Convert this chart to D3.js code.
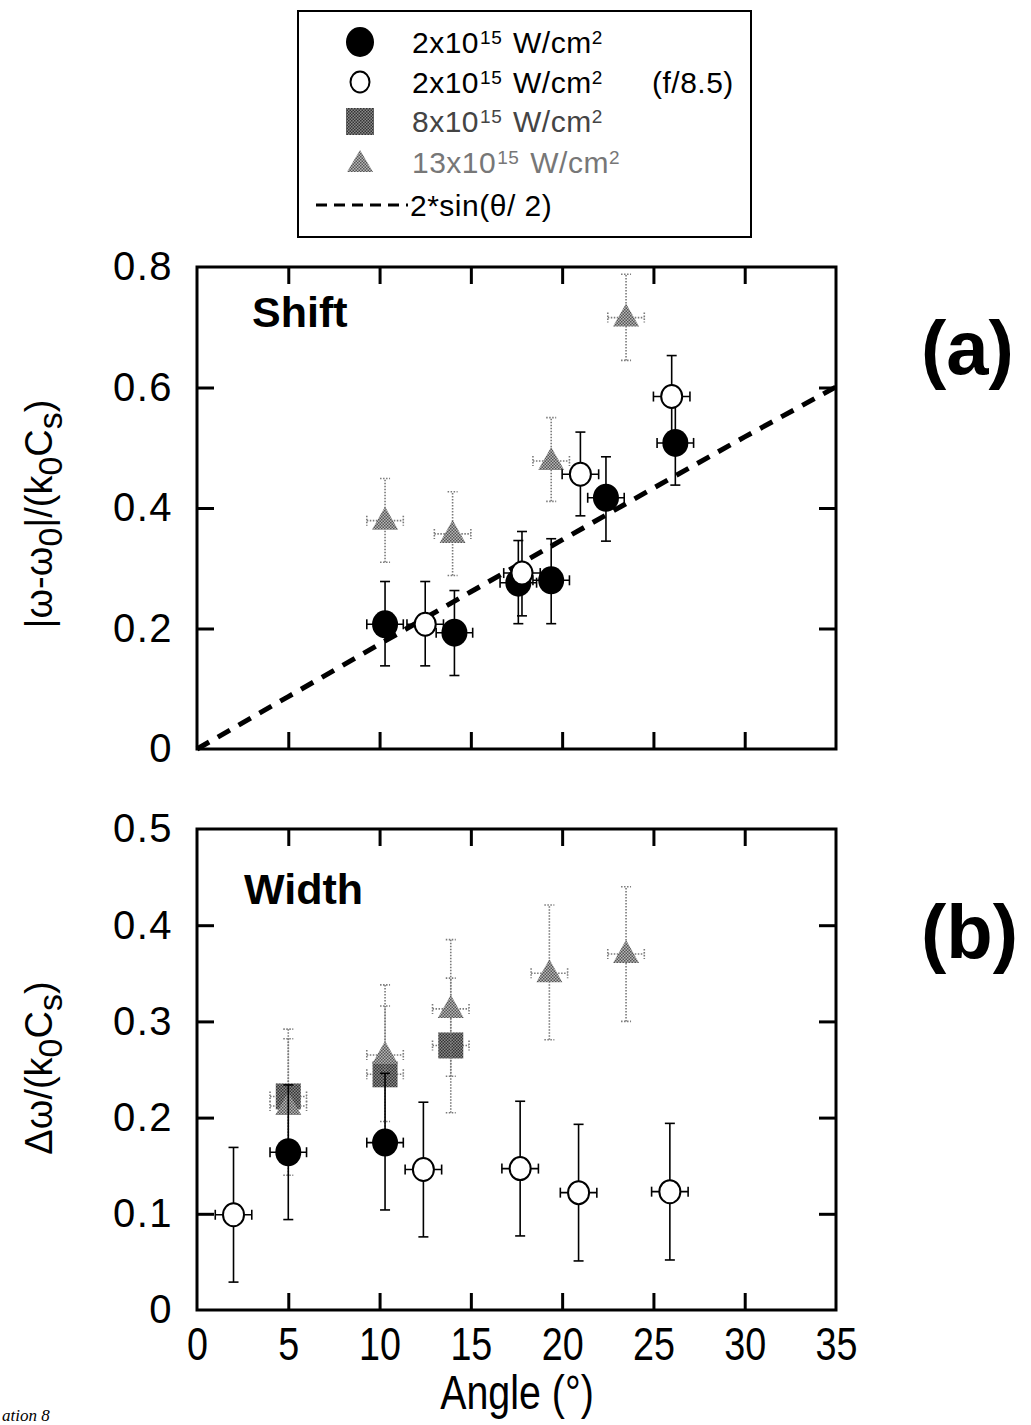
<!DOCTYPE html>
<meta charset="utf-8">
<head>
    <style>
        body { margin: 0; background: #fff; }
        .frame { fill: none; stroke: #000; stroke-width: 3; }
        .ticks .tick line { stroke: #000; stroke-width: 3; }
        .ticks .domain { display: none; }
        .ylab text { font-family: "Liberation Sans", Arial, sans-serif; font-size: 40px; letter-spacing: 1.5px; fill: #000; }
        .xlab text { font-family: "Liberation Sans", Arial, sans-serif; font-size: 46px; fill: #000; }
        .legend text { font-family: "Liberation Sans", Arial, sans-serif; font-size: 30px; letter-spacing: 0.5px; }
    </style>
    <script src="https://d3js.org/d3.v7.min.js"></script>
</head>
<body>
<svg id="chart" width="1031" height="1425"></svg>

<script>
    // angle ticks, value ticks
    var angleTicks = [0, 5, 10, 15, 20, 25, 30, 35];
    var shiftTicks = [0, 0.2, 0.4, 0.6, 0.8];
    var widthTicks = [0, 0.1, 0.2, 0.3, 0.4, 0.5];
    var angleErr = 1.0;

    // rows: [angle, value, low, high]
    var shiftFilled = [
        [10.3, 0.207, 0.138, 0.278],
        [14.1, 0.193, 0.122, 0.263],
        [17.6, 0.276, 0.208, 0.346],
        [19.4, 0.280, 0.208, 0.349],
        [22.4, 0.417, 0.345, 0.485],
        [26.2, 0.508, 0.438, 0.578]
    ];
    var shiftOpen = [
        [12.5, 0.207, 0.138, 0.278],
        [17.8, 0.292, 0.221, 0.361],
        [21.0, 0.456, 0.387, 0.526],
        [26.0, 0.585, 0.515, 0.653]
    ];
    var shiftTri = [
        [10.3, 0.379, 0.310, 0.449],
        [14.0, 0.357, 0.288, 0.427],
        [19.4, 0.478, 0.411, 0.550],
        [23.5, 0.716, 0.645, 0.788]
    ];
    // 2*sin(theta/2)
    var theoryAngle = [0, 5, 10, 15, 20, 25, 30, 35];
    var theoryShift = [0, 0.087, 0.174, 0.261, 0.347, 0.433, 0.518, 0.601];

    var widthOpen = [
        [2.0, 0.099, 0.029, 0.169],
        [12.4, 0.146, 0.076, 0.216],
        [17.7, 0.147, 0.077, 0.217],
        [20.9, 0.122, 0.051, 0.193],
        [25.9, 0.123, 0.052, 0.194]
    ];
    var widthFilled = [
        [5.0, 0.164, 0.094, 0.234],
        [10.3, 0.174, 0.104, 0.246]
    ];
    var widthSquare = [
        [5.0, 0.222, 0.153, 0.292],
        [10.3, 0.245, 0.178, 0.316],
        [13.9, 0.275, 0.205, 0.345]
    ];
    var widthTri = [
        [5.0, 0.212, 0.140, 0.282],
        [10.3, 0.265, 0.196, 0.338],
        [13.9, 0.313, 0.243, 0.385],
        [19.3, 0.350, 0.281, 0.421],
        [23.5, 0.370, 0.300, 0.440]
    ];

    var legendLabels = ["2x10", "2x10", "8x10", "13x10"];

    var svg = d3.select("#chart");

    var x = d3.scaleLinear().domain([0, 35]).range([197, 836]);
    var yA = d3.scaleLinear().domain([0, 0.8]).range([749, 267]);
    var yB = d3.scaleLinear().domain([0, 0.5]).range([1310, 829]);

    var defs = svg.append("defs");
    // halftone-ish fills
    function halftone(id, base, dot) {
        var p = defs.append("pattern").attr("id", id).attr("width", 3).attr("height", 3)
            .attr("patternUnits", "userSpaceOnUse");
        p.append("rect").attr("width", 3).attr("height", 3).attr("fill", base);
        p.append("rect").attr("width", 1.5).attr("height", 1.5).attr("fill", dot);
        p.append("rect").attr("x", 1.5).attr("y", 1.5).attr("width", 1.5).attr("height", 1.5).attr("fill", dot);
    }
    halftone("triFill", "#b8b8b8", "#555");
    halftone("sqFill", "#8a8a8a", "#333");

    function drawFrame(y, ticks, showX) {
        var g = svg.append("g");
        var inner = ticks.slice(1, -1);
        var xin = angleTicks.slice(1, -1);

        g.append("g").attr("class", "ticks").attr("transform", "translate(0," + y.range()[1] + ")")
            .call(d3.axisTop(x).tickValues(xin).tickSize(-17).tickFormat(""));
        g.append("g").attr("class", "ticks").attr("transform", "translate(0," + y.range()[0] + ")")
            .call(d3.axisBottom(x).tickValues(xin).tickSize(-17).tickFormat(""));
        g.append("g").attr("class", "ticks").attr("transform", "translate(" + x.range()[1] + ",0)")
            .call(d3.axisRight(y).tickValues(inner).tickSize(-17).tickFormat(""));
        g.append("g").attr("class", "ticks ylab").attr("transform", "translate(" + x.range()[0] + ",0)")
            .call(d3.axisLeft(y).tickValues(ticks).tickSize(-17).tickPadding(24)
                .tickFormat(function(d){ return d === 0 ? "0" : d3.format(".1f")(d); }));
        g.selectAll(".ylab .tick line").filter(function(d){ return d === ticks[0] || d === ticks[ticks.length-1]; }).remove();

        if (showX) {
            var xa = g.append("g").attr("class", "ticks xlab").attr("transform", "translate(0," + y.range()[0] + ")")
                .call(d3.axisBottom(x).tickValues(angleTicks).tickSize(0).tickPadding(17).tickFormat(d3.format("d")));
            // condensed look
            xa.selectAll("text").attr("transform", "scale(0.82,1)");
        }

        g.append("rect").attr("class", "frame")
            .attr("x", x.range()[0]).attr("y", y.range()[1])
            .attr("width", x.range()[1] - x.range()[0])
            .attr("height", y.range()[0] - y.range()[1]);
    }

    function errorBars(g, data, y, gray) {
        var col = gray ? "#7a7a7a" : "#000";
        var dash = gray ? "1.5,1.5" : null;
        var eb = g.append("g").attr("stroke", col).attr("stroke-width", 1.6).attr("stroke-dasharray", dash);
        data.forEach(function(d){
            var cx = x(d[0]), cy = y(d[1]);
            eb.append("line").attr("x1", cx).attr("x2", cx).attr("y1", y(d[2])).attr("y2", y(d[3]));
            eb.append("line").attr("x1", cx - 5).attr("x2", cx + 5).attr("y1", y(d[2])).attr("y2", y(d[2]));
            eb.append("line").attr("x1", cx - 5).attr("x2", cx + 5).attr("y1", y(d[3])).attr("y2", y(d[3]));
            var xl = x(d[0] - angleErr), xr = x(d[0] + angleErr);
            eb.append("line").attr("x1", xl).attr("x2", xr).attr("y1", cy).attr("y2", cy);
            eb.append("line").attr("x1", xl).attr("x2", xl).attr("y1", cy - 5).attr("y2", cy + 5);
            eb.append("line").attr("x1", xr).attr("x2", xr).attr("y1", cy - 5).attr("y2", cy + 5);
        });
    }

    function filledCircles(g, data, y) {
        g.selectAll(null).data(data).enter().append("ellipse")
            .attr("cx", function(d){ return x(d[0]); }).attr("cy", function(d){ return y(d[1]); })
            .attr("rx", 13).attr("ry", 14).attr("fill", "#000");
    }
    function openCircles(g, data, y) {
        g.selectAll(null).data(data).enter().append("ellipse")
            .attr("cx", function(d){ return x(d[0]); }).attr("cy", function(d){ return y(d[1]); })
            .attr("rx", 10.5).attr("ry", 11.5).attr("fill", "#fff").attr("stroke", "#000").attr("stroke-width", 2);
    }
    function triangles(g, data, y) {
        g.selectAll(null).data(data).enter().append("path")
            .attr("d", function(d){
                var cx = x(d[0]), cy = y(d[1]);
                return "M" + cx + "," + (cy - 14) + "L" + (cx + 13) + "," + (cy + 9) + "L" + (cx - 13) + "," + (cy + 9) + "Z";
            })
            .attr("fill", "url(#triFill)");
    }
    function squares(g, data, y) {
        g.selectAll(null).data(data).enter().append("rect")
            .attr("x", function(d){ return x(d[0]) - 12.5; }).attr("y", function(d){ return y(d[1]) - 13; })
            .attr("width", 25).attr("height", 26).attr("fill", "url(#sqFill)");
    }

    // ---- panel (a) shift
    drawFrame(yA, shiftTicks, false);
    var ga = svg.append("g");
    ga.append("path")
        .datum(theoryAngle.map(function(a, i){ return [a, theoryShift[i]]; }))
        .attr("d", d3.line().x(function(d){ return x(d[0]); }).y(function(d){ return yA(d[1]); }))
        .attr("fill", "none").attr("stroke", "#000").attr("stroke-width", 5)
        .attr("stroke-dasharray", "14,10");
    errorBars(ga, shiftTri, yA, true);
    triangles(ga, shiftTri, yA);
    errorBars(ga, shiftFilled, yA, false);
    filledCircles(ga, shiftFilled, yA);
    errorBars(ga, shiftOpen, yA, false);
    openCircles(ga, shiftOpen, yA);

    // ---- panel (b) width
    drawFrame(yB, widthTicks, true);
    var gb = svg.append("g");
    errorBars(gb, widthSquare, yB, true);
    squares(gb, widthSquare, yB);
    errorBars(gb, widthTri, yB, true);
    triangles(gb, widthTri, yB);
    errorBars(gb, widthFilled, yB, false);
    filledCircles(gb, widthFilled, yB);
    errorBars(gb, widthOpen, yB, false);
    openCircles(gb, widthOpen, yB);

    // panel titles
    var boldFont = "'Liberation Sans', Arial, sans-serif";
    svg.append("text").attr("x", 252).attr("y", 327).text("Shift")
        .style("font-family", boldFont).style("font-weight", "bold").style("font-size", "43px");
    svg.append("text").attr("x", 244).attr("y", 904).text("Width")
        .style("font-family", boldFont).style("font-weight", "bold").style("font-size", "43px");
    svg.append("text").attr("x", 921).attr("y", 374).text("(a)")
        .style("font-family", boldFont).style("font-weight", "bold").style("font-size", "76px");
    svg.append("text").attr("x", 921).attr("y", 958).text("(b)")
        .style("font-family", boldFont).style("font-weight", "bold").style("font-size", "76px");

    // y axis titles
    function yTitle(cy, parts) {
        var t = svg.append("text").attr("transform", "translate(52," + cy + ") rotate(-90)")
            .attr("text-anchor", "middle")
            .style("font-family", "'Liberation Sans', Arial, sans-serif").style("font-size", "38px");
        parts.forEach(function(p){
            var s = t.append("tspan").text(p[0]);
            if (p[1]) s.attr("baseline-shift", "-30%").style("font-size", "34px");
        });
    }
    yTitle(514, [["|ω-ω"], ["0", true], ["|/(k"], ["0", true], ["C"], ["s", true], [")"]]);
    yTitle(1068, [["Δω/(k"], ["0", true], ["C"], ["s", true], [")"]]);

    svg.append("text").attr("transform", "translate(517,1409) scale(0.82,1)").attr("text-anchor", "middle").text("Angle (°)")
        .style("font-family", "'Liberation Sans', Arial, sans-serif").style("font-size", "48px");

    // caption fragment at bottom left
    svg.append("text").attr("x", 2).attr("y", 1421).text("ation  8")
        .style("font-family", "'Liberation Serif', serif").style("font-style", "italic").style("font-size", "17px");

    // ---- legend
    var lg = svg.append("g").attr("class", "legend");
    lg.append("rect").attr("x", 298).attr("y", 11).attr("width", 453).attr("height", 226)
        .attr("fill", "#fff").attr("stroke", "#000").attr("stroke-width", 2);
    var rowY = [42, 82, 121, 162, 205];
    var textCol = ["#000", "#000", "#444", "#777"];
    lg.append("ellipse").attr("cx", 360).attr("cy", rowY[0]).attr("rx", 14).attr("ry", 15).attr("fill", "#000");
    lg.append("ellipse").attr("cx", 360).attr("cy", rowY[1]).attr("rx", 9.5).attr("ry", 10.5)
        .attr("fill", "#fff").attr("stroke", "#000").attr("stroke-width", 2);
    lg.append("rect").attr("x", 346).attr("y", rowY[2] - 13).attr("width", 28).attr("height", 27).attr("fill", "url(#sqFill)");
    lg.append("path").attr("d", "M360," + (rowY[3] - 12) + "L373," + (rowY[3] + 10) + "L347," + (rowY[3] + 10) + "Z")
        .attr("fill", "url(#triFill)");
    legendLabels.forEach(function(l, i){
        var t = lg.append("text").attr("x", 412).attr("y", rowY[i] + 11).style("fill", textCol[i]);
        t.append("tspan").text(l);
        t.append("tspan").text("15").attr("baseline-shift", "45%").style("font-size", "19px").attr("dx", 1);
        t.append("tspan").text(" W/cm").attr("dx", 2).attr("baseline-shift", "0");
        t.append("tspan").text("2").attr("baseline-shift", "45%").style("font-size", "19px");
        if (i === 1) t.append("tspan").text("(f/8.5)").attr("x", 652).attr("baseline-shift", "0");
    });
    lg.append("line").attr("x1", 316).attr("x2", 408).attr("y1", rowY[4]).attr("y2", rowY[4])
        .attr("stroke", "#000").attr("stroke-width", 3).attr("stroke-dasharray", "11,7");
    lg.append("text").attr("x", 410).attr("y", rowY[4] + 11).text("2*sin(θ/ 2)").style("fill", "#000");
</script>
</body>
</html>
